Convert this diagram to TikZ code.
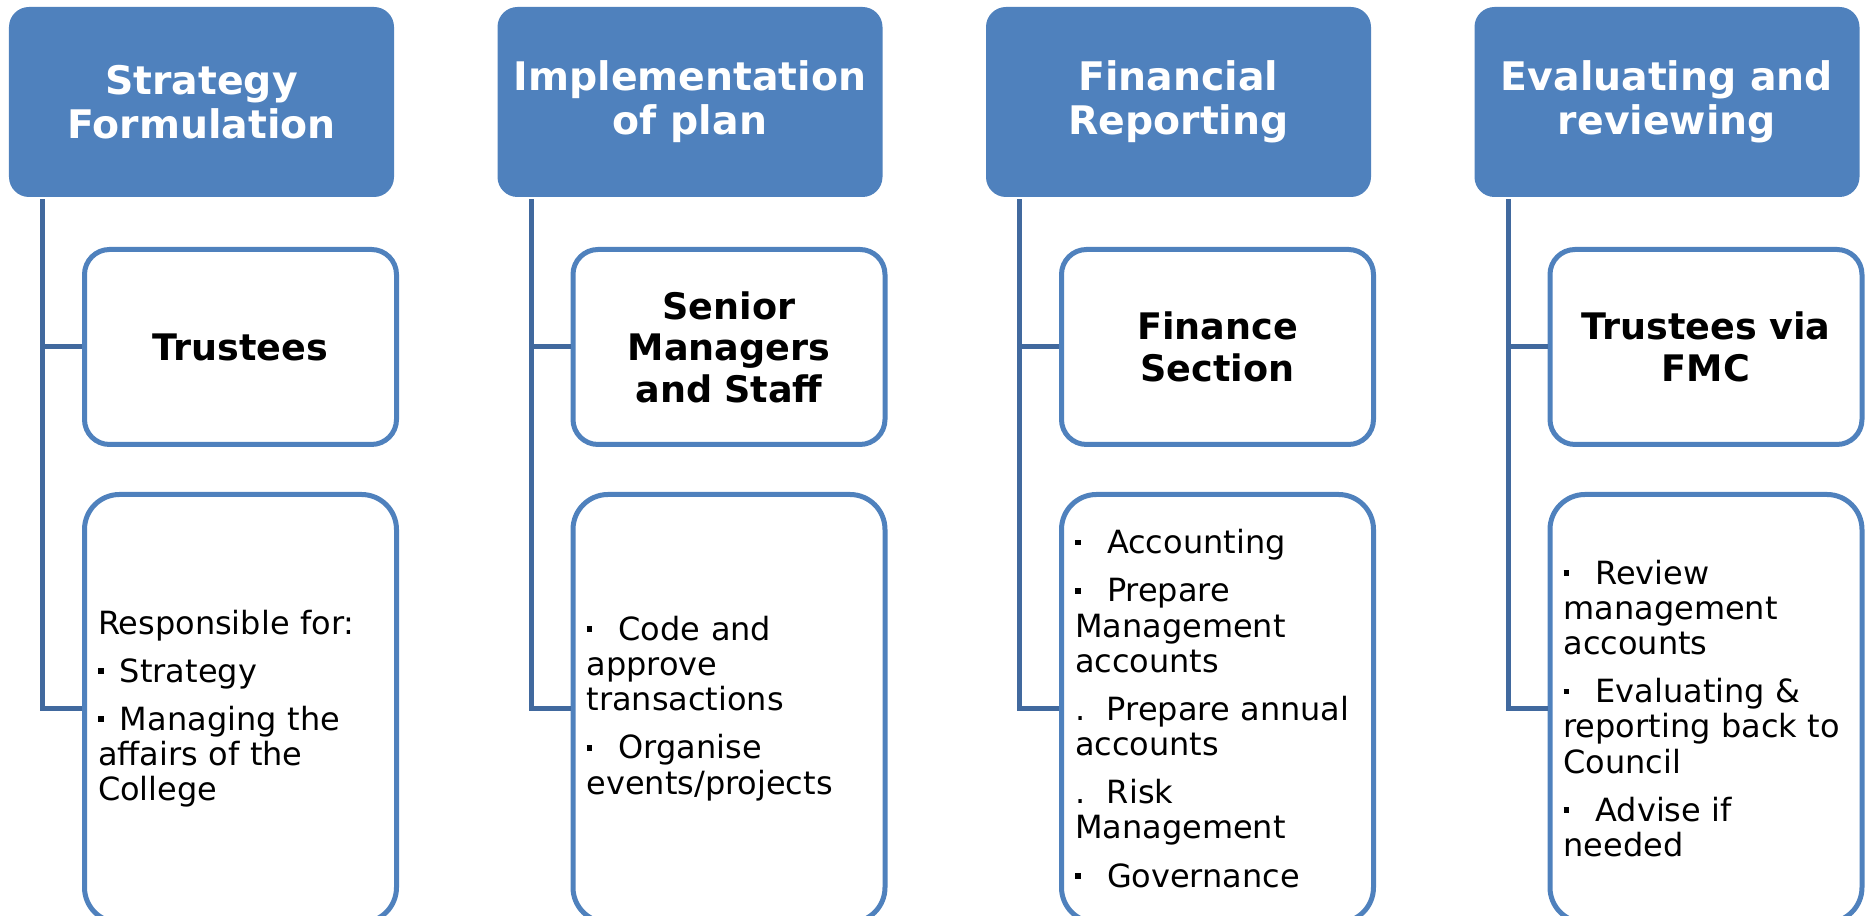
\documentclass[tikz,border=0pt]{standalone}
\usepackage{fontspec}
\setmainfont{DejaVu Sans}
\usetikzlibrary{positioning}

\definecolor{hdrblue}{HTML}{4F81BD}
\definecolor{linkblue}{HTML}{41699E}

% square bullet and dot markers in front of the duty lines
\newcommand{\bulitem}[1][0.32cm]{\makebox[#1][l]{\raisebox{2.4pt}{\rule{1.7pt}{1.6pt}}}}
\newcommand{\dotitem}[1][0.32cm]{\makebox[#1][l]{.}}

\begin{document}
\begin{tikzpicture}[
            node distance = 4.885cm, % distance between columns
            line width = 0.05cm % box borders and links
        ]

        \tikzstyle{phase}=[
            rectangle,
            rounded corners = 0.2cm,
            fill = hdrblue,
            text = white,
            font = \fontsize{11.2}{12.5}\selectfont\bfseries,
            align = center,
            minimum width = 3.85cm,
            minimum height = 1.9cm
        ]
        \tikzstyle{role}=[
            rectangle,
            rounded corners = 0.25cm,
            draw = hdrblue,
            fill = white,
            font = \fontsize{10.4}{11.8}\selectfont\bfseries,
            align = center,
            inner xsep = 0.135cm,
            text width = 2.85cm,
            minimum height = 1.95cm
        ]
        \tikzstyle{duty}=[
            role,
            rounded corners = 0.35cm,
            font = \fontsize{9.1}{10}\selectfont,
            align = left,
            minimum height = 4.28cm
        ]
        \tikzstyle{link}=[
            draw = linkblue
        ]

        \useasboundingbox (0,0) rectangle (18.69,-9.16);
        \clip (0,0) rectangle (18.69,-9.16);

        % the four phases
        \node[phase] (h1) at (2.015,-1.02) {Strategy\\Formulation};
        \node[phase] (h2) [right of=h1] {Implementation\\of plan};
        \node[phase] (h3) [right of=h2] {Financial\\Reporting};
        \node[phase] (h4) [right of=h3] {Evaluating and\\reviewing};

        % who is in charge
        \node[role] (r1) [node distance=2.45cm, below of=h1, xshift=0.39cm] {Trustees};
        \node[role] (r2) [node distance=2.45cm, below of=h2, xshift=0.39cm] {Senior\\Managers\\and Staff};
        \node[role] (r3) [node distance=2.45cm, below of=h3, xshift=0.39cm] {Finance\\Section};
        \node[role] (r4) [node distance=2.45cm, below of=h4, xshift=0.39cm] {Trustees via\\FMC};

        % what they do
        \node[duty] (d1) [node distance=3.615cm, below of=r1] {Responsible for:\\[3.7pt]
            \bulitem[0.22cm]Strategy\\[3.7pt]
            \bulitem[0.22cm]Managing the\\affairs of the\\College};
        \node[duty] (d2) [node distance=3.615cm, below of=r2] {\bulitem Code and\\approve\\transactions\\[3.7pt]
            \bulitem Organise\\events/projects};
        \node[duty] (d3) [node distance=3.615cm, below of=r3] {\bulitem Accounting\\[3.7pt]
            \bulitem Prepare\\Management\\accounts\\[3.7pt]
            \dotitem Prepare annual\\accounts\\[3.7pt]
            \dotitem Risk\\Management\\[3.7pt]
            \bulitem Governance};
        \node[duty] (d4) [node distance=3.615cm, below of=r4] {\bulitem Review\\management\\accounts\\[3.7pt]
            \bulitem Evaluating \&\\reporting back to\\Council\\[3.7pt]
            \bulitem Advise if\\needed};

        % links down the left side of each column
        \draw[link] ([xshift=0.36cm]h1.south west) |- (r1.west);
        \draw[link] ([xshift=0.36cm]h1.south west) |- (d1.west);
        \draw[link] ([xshift=0.36cm]h2.south west) |- (r2.west);
        \draw[link] ([xshift=0.36cm]h2.south west) |- (d2.west);
        \draw[link] ([xshift=0.36cm]h3.south west) |- (r3.west);
        \draw[link] ([xshift=0.36cm]h3.south west) |- (d3.west);
        \draw[link] ([xshift=0.36cm]h4.south west) |- (r4.west);
        \draw[link] ([xshift=0.36cm]h4.south west) |- (d4.west);

    \end{tikzpicture}
\end{document}
